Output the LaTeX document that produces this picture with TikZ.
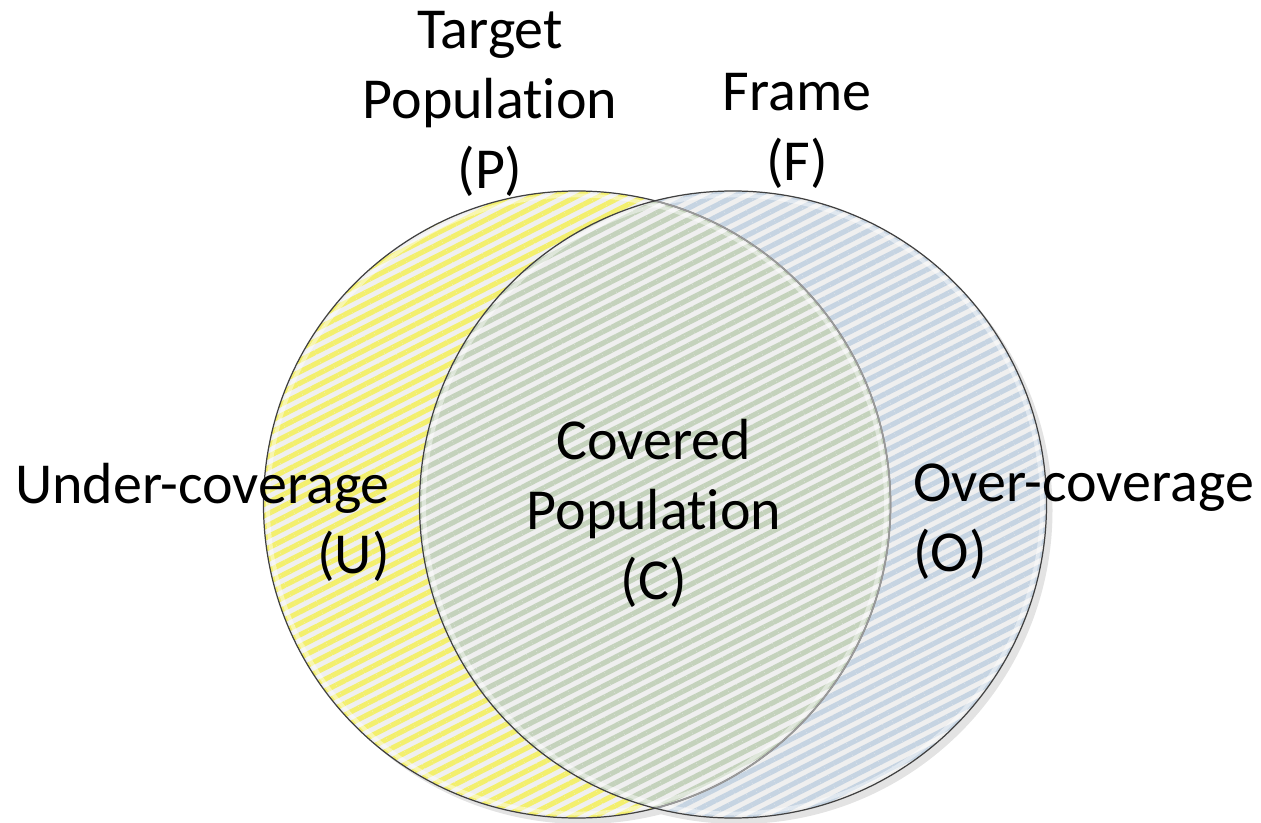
\documentclass[tikz,border=0pt]{standalone}
\usepackage{fontspec}
\setmainfont{Carlito}
\usetikzlibrary{patterns.meta}
\definecolor{bggray}{HTML}{EFEFEF}
\definecolor{pyellow}{HTML}{F3EF6E}
\definecolor{fblue}{HTML}{C6D4E2}
\definecolor{cgreen}{HTML}{C4D2BC}
\definecolor{rimgray}{HTML}{404040}
% keep t and i apart (no ligature)
\newcommand{\popl}{Populat\kern0pt ion}

\begin{document}
\begin{tikzpicture}[
  every node/.style={font=\fontsize{33}{39.8}\selectfont,inner sep=0pt},
  stripes/.style={pattern={Lines[angle=27,distance=5.8pt,line width=2.9pt]},
    pattern color=#1},
  rim/.style={draw=rimgray,line width=0.7pt},
  glow/.style={draw=white,opacity=.45,line width=2.2pt},
  shade/.style={fill=black!11}
]
  \useasboundingbox (0,0) rectangle (25.22,16.44);
  \coordinate (pc) at (11.54,6.35);
  \coordinate (fc) at (14.66,6.35);

  % shadows
  \fill[shade] ([shift={(.12,-.12)}]pc) circle (6.27);
  \fill[shade] ([shift={(.12,-.12)}]fc) circle (6.27);

  % target population and frame
  \fill[bggray] (pc) circle (6.27);
  \fill[stripes=pyellow] (pc) circle (6.27);
  \fill[bggray] (fc) circle (6.27);
  \fill[stripes=fblue] (fc) circle (6.27);
  \begin{scope}
    \clip (pc) circle (6.27);
    \fill[bggray] (fc) circle (6.27);
    \fill[stripes=cgreen] (fc) circle (6.27);
  \end{scope}
  \draw[glow] (pc) circle (6.18);
  \draw[glow] (fc) circle (6.18);

  % outlines
  \draw[rim] (pc) circle (6.27);
  \begin{scope}
    \clip (fc) circle (6.27);
    \draw[draw=black!40,line width=1pt] (pc) circle (6.27);
  \end{scope}
  \draw[rim] (fc) circle (6.27);

  % labels
  \node[align=center] (target) at (9.8,14.36)
    {Target\\\popl\\(P)};
  \node[align=center] (frame) at (15.94,13.82) {Frame\\(F)};
  \node[align=center] (covered) at (13.08,6.18)
    {Covered\\\popl\\(C)};
  \node[align=right,anchor=east] (under) at (7.8,6.0)
    {Under-coverage\\(U)};
  \node[align=left,anchor=west] (over) at (18.26,6.0)
    {Over-coverage\\(O)};
\end{tikzpicture}
\end{document}
